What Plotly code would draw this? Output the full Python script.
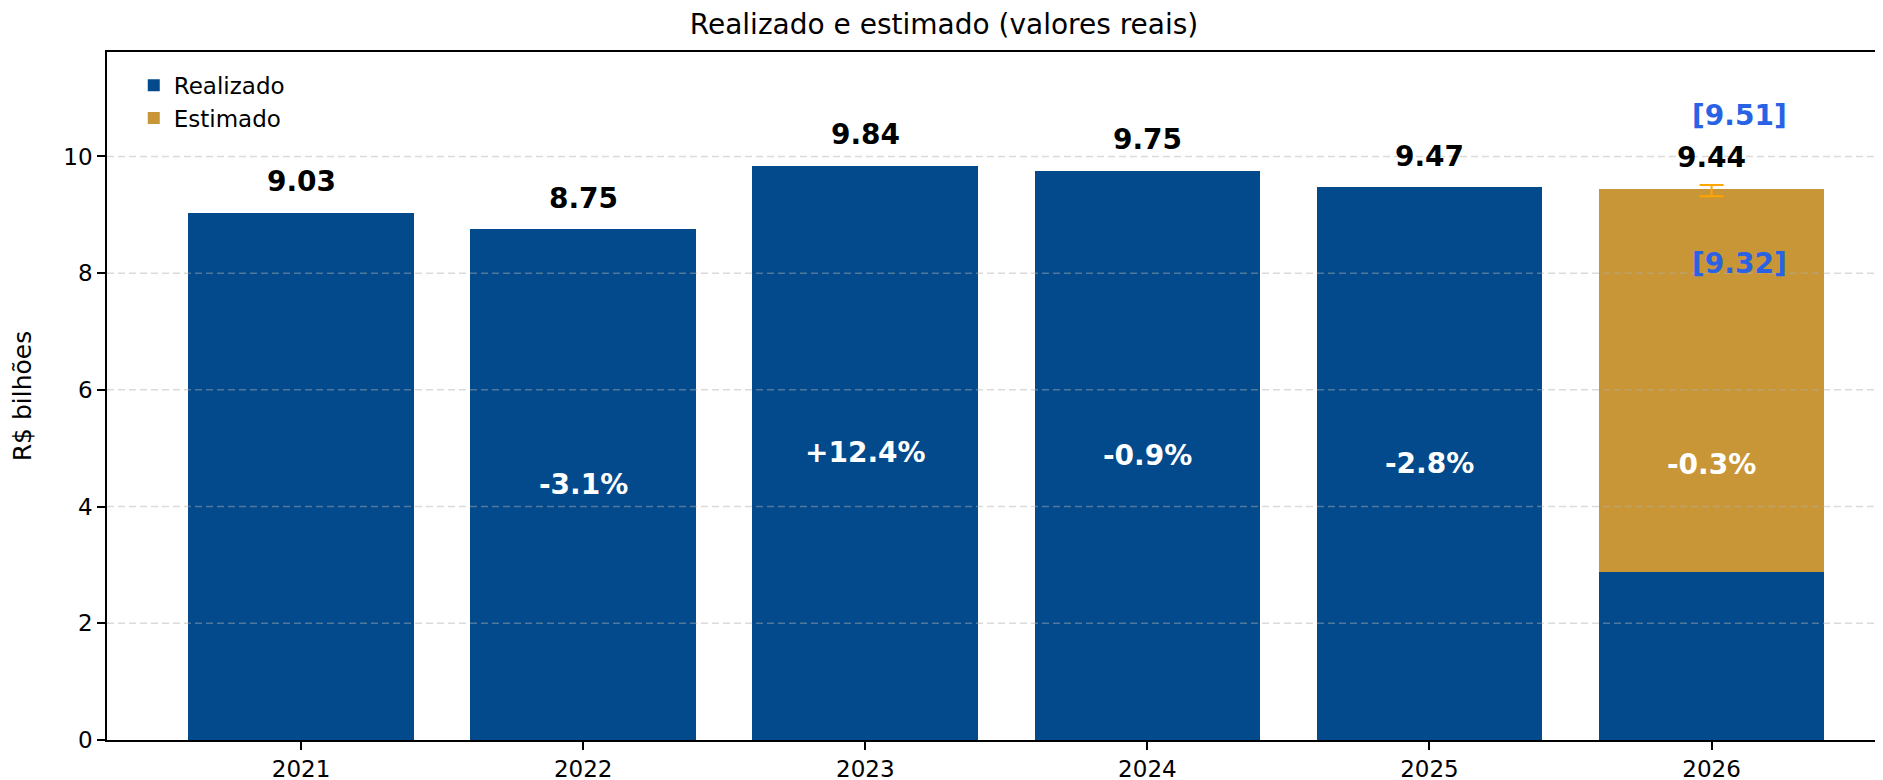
import plotly.graph_objects as go

# Dados (R$ bilhões, valores reais)
anos = ["2021", "2022", "2023", "2024", "2025", "2026"]
realizado = [9.03, 8.75, 9.84, 9.75, 9.47, 2.88]
estimado = [None, None, None, None, None, 6.56]
totais = [9.03, 8.75, 9.84, 9.75, 9.47, 9.44]
variacao = ["", "-3.1%", "+12.4%", "-0.9%", "-2.8%", "-0.3%"]
est_total = 9.44
est_min = 9.32
est_max = 9.51
grade_y = [2, 4, 6, 8, 10]

AZUL = "#034a8c"
OURO = "#c99637"
FONTE = "DejaVu Sans"

fig = go.Figure()

fig.add_trace(go.Bar(x=anos, y=realizado, name="Realizado", marker_color=AZUL,
                     marker_line_width=0))
fig.add_trace(go.Bar(x=anos, y=estimado, name="Estimado", marker_color=OURO,
                     marker_line_width=0))

# Intervalo da estimativa
fig.add_trace(go.Scatter(
    x=[anos[-1]], y=[est_total], mode="markers", marker=dict(size=1, opacity=0),
    error_y=dict(type="data", symmetric=False, array=[est_max - est_total],
                 arrayminus=[est_total - est_min], color="orange", thickness=2, width=12),
    showlegend=False, hoverinfo="skip"))

# Valores totais acima das barras (x em índice de categoria)
for i, v in enumerate(totais):
    fig.add_annotation(x=i, y=v + 0.22, text=f"<b>{v:.2f}</b>", showarrow=False,
                       yanchor="bottom", font=dict(size=28, color="black", family=FONTE))

# Variação anual no meio das barras
for i, (v, t) in enumerate(zip(totais, variacao)):
    if t:
        fig.add_annotation(x=i, y=v / 2, text=f"<b>{t}</b>", showarrow=False,
                           yanchor="middle", font=dict(size=28, color="white", family=FONTE))

# Limites da estimativa
n = len(anos) - 1
fig.add_annotation(x=n, y=est_max + 1.2, text=f"<b>[{est_max:.2f}]</b>", showarrow=False,
                   xshift=28, yanchor="middle", font=dict(size=28, color="#2a62e6", family=FONTE))
fig.add_annotation(x=n, y=est_min - 1.15, text=f"<b>[{est_min:.2f}]</b>", showarrow=False,
                   xshift=28, yanchor="middle", font=dict(size=28, color="#2a62e6", family=FONTE))

# Grade tracejada por cima das barras
for g in grade_y:
    fig.add_shape(type="line", xref="paper", x0=0, x1=1, yref="y", y0=g, y1=g,
                  line=dict(color="rgba(176,176,176,0.45)", width=1.5, dash="7px,4px"),
                  layer="above")

# a página tem 8px de margem no body: margens compensadas
fig.update_layout(
    width=1883, height=780,
    margin=dict(l=99, r=0, t=44, b=48, autoexpand=False),
    barmode="stack", bargap=0.2,
    plot_bgcolor="white", paper_bgcolor="white",
    font=dict(family=FONTE, size=23, color="black"),
    title=dict(text="Realizado e estimado (valores reais)", x=(944 - 8) / 1883, xanchor="center",
               y=1 - 16 / 780, yanchor="middle", font=dict(size=28, family=FONTE)),
    legend=dict(x=0.015, y=0.983, xanchor="left", yanchor="top", bgcolor="rgba(0,0,0,0)",
                font=dict(size=23), traceorder="normal"),
    showlegend=True,
)

fig.update_xaxes(type="category", range=[-0.688, 5.636], showline=True, linecolor="black",
                 linewidth=1.5, mirror=True, ticks="outside", ticklen=8, tickwidth=1.5,
                 tickcolor="black", showgrid=False, automargin=False)
fig.update_yaxes(range=[0, 11.79], tickvals=[0, 2, 4, 6, 8, 10], showline=True, linecolor="black",
                 linewidth=1.5, ticks="outside", ticklen=8, tickwidth=1.5, tickcolor="black",
                 showgrid=False, zeroline=False, automargin=False,
                 title=dict(text="R$ bilhões", font=dict(size=25), standoff=25))

fig.write_html("out.html")
